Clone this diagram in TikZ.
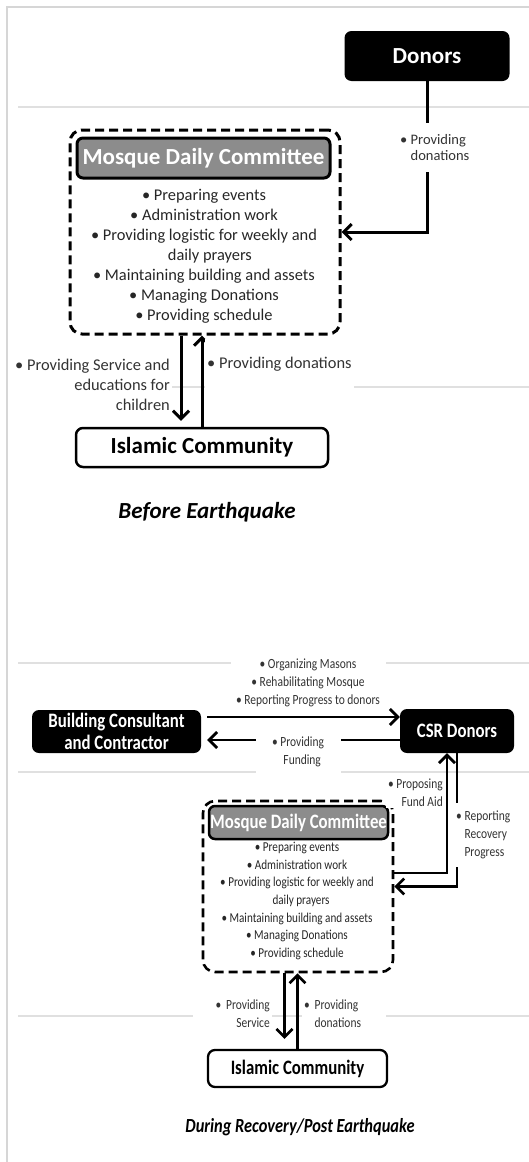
\documentclass[tikz,border=0pt]{standalone}
\usepackage{fontspec}
\setmainfont{Carlito}
\newfontfamily\narrowfont[FakeStretch=0.82]{Carlito}
\usetikzlibrary{arrows.meta}

\newcommand{\bigbold}{\fontsize{23}{26}\selectfont\bfseries}
\newcommand{\bulletfont}{\fontsize{16.4}{20}\selectfont}
\newcommand{\smalllabel}{\fontsize{14.5}{16.5}\selectfont}
\newcommand{\captionfont}{\fontsize{23}{26}\selectfont\bfseries\itshape}
\newcommand{\narrowtitle}{\narrowfont\fontsize{20.5}{22}\selectfont\bfseries}
\newcommand{\narrowbullet}{\narrowfont\fontsize{13.6}{17.6}\selectfont}
\newcommand{\narrowlabel}{\narrowfont\fontsize{14}{18}\selectfont}
\newcommand{\narrowcaption}{\narrowfont\fontsize{20}{22}\selectfont\bfseries\itshape}

\begin{document}
\begin{tikzpicture}[x=1pt,y=-1pt,
  grayline/.style={draw=black!12, line width=1.5pt},
  frameline/.style={draw=black!16, line width=2pt},
  blackbox/.style={fill=black, rounded corners=7pt, text=white, inner sep=0pt, align=center},
  whitebox/.style={draw=black, line width=2.5pt, fill=white, rounded corners=7pt, inner sep=0pt},
  dashbox/.style={draw=black, line width=3pt, dash pattern=on 9pt off 5pt, rounded corners=12pt, inner sep=0pt},
  titlebox/.style={draw=black, line width=3pt, fill=black!45, rounded corners=6pt, text=white, inner sep=0pt},
  lbl/.style={fill=white, text=black!80, inner sep=2pt},
  arr/.style={line width=3pt, -{Straight Barb[length=8pt,width=16pt]}},
]
  \useasboundingbox (0,0) rectangle (529,1162);
  % background rules
  \draw[frameline] (7,1162) -- (7,7) -- (529,7);
  \foreach \y in {107,387,663,772,1016}
    \draw[grayline] (18,\y) -- (529,\y);

  % before earthquake
  \node[blackbox, minimum width=165, minimum height=50, font=\bigbold] (donors) at (427,56) {Donors};
  \node[dashbox, minimum width=270, minimum height=204] (mdc) at (205,232) {};
  \node[titlebox, minimum width=253, minimum height=40, font=\bigbold] (mdctitle) at (203.5,158) {Mosque Daily Committee};
  \node[font=\bulletfont, align=center, text=black!85] (mdclist) at (204,256.5)
    {• Preparing events\\• Administration work\\• Providing logistic for weekly and\\\hphantom{• }daily prayers\\
     • Maintaining building and assets\\• Managing Donations\\• Providing schedule};
  \node[whitebox, minimum width=252, minimum height=39, font=\bigbold] (ic) at (202,447.5) {Islamic Community};

  \draw[arr] (donors.south) |- (mdc.east);
  \node[lbl, anchor=west, align=left, font=\smalllabel, minimum height=49] (donlab) at (398,147.5)
    {• Providing\\\hphantom{• }donations};

  \draw[arr, shorten >=6pt] ([xshift=-21pt]ic.north |- mdc.south) -- ([xshift=-21pt]ic.north);
  \draw[arr] (ic.north) -- (ic.north |- mdc.south);
  \node[lbl, anchor=east, align=right, font=\bulletfont] (servlab) at (172,385)
    {• Providing Service and\\educations for\\children};
  \node[lbl, anchor=west, font=\bulletfont, minimum height=50] (givelab) at (205,364) {• Providing donations};

  \node[font=\captionfont] (before) at (207,512) {Before Earthquake};

  % during recovery / post earthquake
  \node[blackbox, minimum width=169, minimum height=43, font=\narrowtitle] (bcc) at (116.5,731.5) {Building Consultant\\and Contractor};
  \node[blackbox, minimum width=114, minimum height=44, font=\narrowtitle] (csr) at (457,731) {CSR Donors};

  \draw[arr, line width=2.7pt, shorten <=6pt] ([yshift=14.5pt]bcc.east) -- ([yshift=14.5pt]bcc.east -| csr.west);
  \draw[arr, line width=2.7pt, shorten >=6pt] ([yshift=-8.5pt]bcc.east -| csr.west) -- ([yshift=-8.5pt]bcc.east);
  \node[lbl, font=\narrowlabel, align=center, minimum width=155, minimum height=56] (worklab) at (308,683)
    {• Organizing Masons\\• Rehabilitating Mosque\\• Reporting Progress to donors};
  \node[lbl, font=\narrowlabel, align=center, minimum width=85, minimum height=46] (fundlab) at (298,752)
    {• Providing\\\hspace{0.6em}Funding};

  \node[dashbox, line width=2.6pt, minimum width=190, minimum height=171] (mdc2) at (298,886.5) {};
  \node[titlebox, line width=2.5pt, minimum width=179, minimum height=33, font=\narrowtitle] (mdc2title) at (298.5,822.5) {Mosque Daily Committee};
  \node[font=\narrowbullet, align=center, text=black!85] (mdc2list) at (297,901)
    {• Preparing events\\• Administration work\\• Providing logistic for weekly and\\\hphantom{• }daily prayers\\
     • Maintaining building and assets\\• Managing Donations\\• Providing schedule};

  \draw[arr, line width=2.7pt] ([yshift=13.5pt]mdc2.east) -| ([xshift=-10pt]csr.south);
  \draw[arr, line width=2.7pt] (csr.south) |- (mdc2.east);
  \node[lbl, anchor=east, align=right, font=\narrowlabel] (proplab) at (445,792.5) {• Proposing\\Fund Aid};
  \node[lbl, anchor=west, align=left, font=\narrowlabel, minimum height=64] (replab) at (454,835)
    {• Reporting\\\hphantom{• }Recovery\\\hphantom{• }Progress};

  \node[whitebox, line width=2.3pt, minimum width=179, minimum height=37, font=\narrowtitle] (ic2) at (297.5,1068.5) {Islamic Community};
  \draw[arr, line width=2.7pt, shorten >=10pt] ([xshift=-13pt]ic2.north |- mdc2.south) -- ([xshift=-13pt]ic2.north);
  \draw[arr, line width=2.7pt] (ic2.north) -- (ic2.north |- mdc2.south);
  \node[lbl, anchor=east, align=right, font=\narrowlabel, text width=75] (servlab2) at (272,1014) {• Providing\\Service};
  \node[lbl, anchor=west, align=left, font=\narrowlabel, text width=80] (givelab2) at (302,1014) {• Providing\\\hphantom{• }donations};

  \node[font=\narrowcaption] (during) at (300,1127) {During Recovery/Post Earthquake};
\end{tikzpicture}
\end{document}
